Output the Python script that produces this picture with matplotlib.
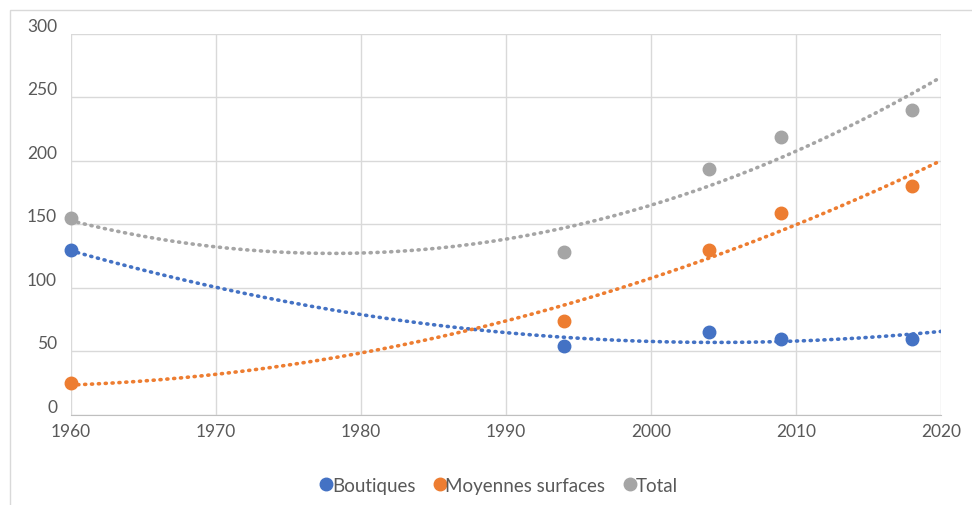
import numpy as np
import matplotlib.pyplot as plt
from matplotlib.patches import Rectangle

years = [1960, 1994, 2004, 2009, 2018]
boutiques = [130, 54, 65, 60, 60]
moyennes = [25, 74, 130, 159, 180]
total = [155, 128, 194, 219, 240]

series = [
    ('Boutiques', boutiques, '#4472C4'),
    ('Moyennes surfaces', moyennes, '#ED7D31'),
    ('Total', total, '#A5A5A5'),
]

plt.rcParams['font.family'] = ['Lato', 'DejaVu Sans']

fig = plt.figure(figsize=(9.72, 5.06), dpi=100)
ax = fig.add_axes([0.073, 0.178, 0.895, 0.753])

# chart area border like the Excel frame
fig.patches.append(Rectangle((0.0105, -0.01), 1.2, 0.988, transform=fig.transFigure,
                             fill=False, edgecolor='#D9D9D9', lw=1))

xs = np.linspace(1960, 2020, 200)
for name, vals, color in series:
    # second order polynomial trendline, as in the Excel chart
    coef = np.polyfit(years, vals, 2)
    ax.plot(xs, np.polyval(coef, xs), color=color, lw=2.6,
            linestyle=(0, (0.3, 1.6)), dash_capstyle='round', zorder=2)
    ax.plot(years, vals, 'o', color=color, markersize=9, label=name, zorder=3,
            clip_on=False)

ax.set_xlim(1960, 2020)
ax.set_ylim(0, 300)
ax.set_xticks(range(1960, 2021, 10))
ax.set_yticks(range(0, 301, 50))
ax.grid(True, color='#D9D9D9', lw=1)
ax.set_axisbelow(True)
for s in ['top', 'left', 'right']:
    ax.spines[s].set_visible(False)
ax.spines['bottom'].set_color('#BFBFBF')
ax.tick_params(length=0, colors='#595959', labelsize=12.5)
ax.tick_params(axis='x', pad=6)
ax.tick_params(axis='y', pad=10)
for lab in ax.get_yticklabels():
    lab.set_verticalalignment('bottom')

ax.legend(loc='upper center', bbox_to_anchor=(0.49, -0.118), ncol=3, frameon=False,
          fontsize=13.5, labelcolor='#595959', handletextpad=-0.2, columnspacing=0.8,
          markerscale=1.0, handlelength=1.0)

fig.savefig('out.png', dpi=100)
